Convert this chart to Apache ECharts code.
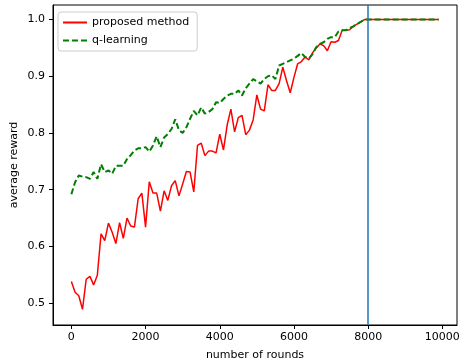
<!DOCTYPE html>
<html>
<head>
<meta charset="utf-8">
<script src="https://cdn.jsdelivr.net/npm/echarts@6/dist/echarts.min.js"></script>
<style>html,body{margin:0;padding:0;background:#fff}#c{width:459px;height:363px}</style>
</head>
<body>
<div id="c"></div>
<script>
const rounds = [0,100,200,300,400,500,600,700,800,900,
1000,1100,1200,1300,1400,1500,1600,1700,1800,1900,
2000,2100,2200,2300,2400,2500,2600,2700,2800,2900,
3000,3100,3200,3300,3400,3500,3600,3700,3800,3900,
4000,4100,4200,4300,4400,4500,4600,4700,4800,4900,
5000,5100,5200,5300,5400,5500,5600,5700,5800,5900,
6000,6100,6200,6300,6400,6500,6600,6700,6800,6900,
7000,7100,7200,7300,7400,7500,7600,7700,7800,7900,
8000,8100,8200,8300,8400,8500,8600,8700,8800,8900,
9000,9100,9200,9300,9400,9500,9600,9700,9800,9900];

const proposed = [0.538,0.519,0.513,0.489,0.542,0.547,0.532,0.549,0.622,0.610,
0.641,0.625,0.605,0.642,0.614,0.650,0.636,0.634,0.684,0.694,
0.634,0.714,0.694,0.694,0.662,0.698,0.681,0.707,0.716,0.689,
0.710,0.732,0.731,0.696,0.778,0.782,0.760,0.768,0.768,0.765,
0.798,0.770,0.814,0.842,0.802,0.827,0.831,0.797,0.805,0.823,
0.867,0.842,0.839,0.885,0.875,0.875,0.887,0.916,0.892,0.871,
0.898,0.922,0.926,0.934,0.929,0.941,0.950,0.957,0.954,0.945,
0.961,0.960,0.963,0.981,0.981,0.982,0.988,0.992,0.996,1.0,
1.0,1.0,1.0,1.0,1.0,1.0,1.0,1.0,1.0,1.0,
1.0,1.0,1.0,1.0,1.0,1.0,1.0,1.0,1.0,1.0];

const qlearning = [0.692,0.713,0.725,0.723,0.722,0.719,0.731,0.719,0.745,0.731,
0.734,0.728,0.742,0.742,0.742,0.754,0.761,0.769,0.773,0.773,
0.775,0.767,0.778,0.794,0.775,0.792,0.798,0.807,0.824,0.805,
0.800,0.810,0.825,0.839,0.831,0.845,0.834,0.837,0.842,0.854,
0.853,0.860,0.866,0.869,0.869,0.875,0.866,0.879,0.887,0.895,
0.891,0.887,0.895,0.900,0.902,0.895,0.919,0.922,0.925,0.928,
0.931,0.936,0.941,0.934,0.931,0.939,0.951,0.957,0.960,0.966,
0.969,0.969,0.979,0.981,0.981,0.985,0.988,0.992,0.996,1.0,
1.0,1.0,1.0,1.0,1.0,1.0,1.0,1.0,1.0,1.0,
1.0,1.0,1.0,1.0,1.0,1.0,1.0,1.0,1.0,1.0];

const xTicks = [0,2000,4000,6000,8000,10000];
const yTicks = [0.5,0.6,0.7,0.8,0.9,1.0];
const vLineX = 8000;
const seriesNames = ['proposed method','q-learning'];

const FONT = 'DejaVu Sans';
const pair = (xs, ys) => xs.map((x, i) => [x, ys[i]]);

const chart = echarts.init(document.getElementById('c'), null, {renderer: 'canvas'});
chart.setOption({
  animation: false,
  backgroundColor: '#fff',
  textStyle: {fontFamily: FONT},
  grid: {left: 53, right: 2, top: 5, bottom: 38, show: true, borderColor: '#000', borderWidth: 1,
    backgroundColor: 'transparent', containLabel: false, outerBoundsMode: 'none'},
  legend: {
    orient: 'vertical', left: 58, top: 12,
    itemWidth: 24, itemHeight: 10, itemGap: 7,
    padding: [5, 8, 5, 4],
    borderColor: '#ccc', borderWidth: 1, borderRadius: 3,
    backgroundColor: 'rgba(255,255,255,0.8)',
    itemStyle: {opacity: 0},
    textStyle: {fontFamily: FONT, fontSize: 11, color: '#000'},
    data: seriesNames
  },
  xAxis: {
    type: 'value', min: -495, max: 10395,
    name: 'number of rounds', nameLocation: 'middle', nameGap: 25,
    nameTextStyle: {fontFamily: FONT, fontSize: 11, color: '#000'},
    axisLine: {show: true, onZero: false, lineStyle: {color: '#000', width: 1}},
    axisTick: {show: true, length: 4, inside: false, customValues: xTicks, lineStyle: {color: '#000'}},
    axisLabel: {customValues: xTicks, margin: 7, fontFamily: FONT, fontSize: 11, color: '#000',
      formatter: v => String(Math.round(v))},
    splitLine: {show: false}
  },
  yAxis: {
    type: 'value', min: 0.4613, max: 1.0257,
    name: 'average reward', nameLocation: 'middle', nameGap: 33, nameRotate: 90,
    nameMoveOverlap: false,
    nameTextStyle: {fontFamily: FONT, fontSize: 11, color: '#000'},
    axisLine: {show: true, onZero: false, lineStyle: {color: '#000', width: 1}},
    axisTick: {show: true, length: 4, customValues: yTicks, lineStyle: {color: '#000'}},
    axisLabel: {customValues: yTicks, margin: 8, fontFamily: FONT, fontSize: 11, color: '#000',
      formatter: v => v.toFixed(1)},
    splitLine: {show: false}
  },
  series: [
    {
      name: seriesNames[0], type: 'line', data: pair(rounds, proposed),
      showSymbol: false, symbol: 'none', smooth: false,
      lineStyle: {color: '#ff0000', width: 1.5},
      itemStyle: {color: '#ff0000'}, z: 2
    },
    {
      name: seriesNames[1], type: 'line', data: pair(rounds, qlearning),
      showSymbol: false, symbol: 'none', smooth: false,
      lineStyle: {color: '#008000', width: 2, type: [6, 3]},
      itemStyle: {color: '#008000'}, z: 3
    },
    {
      name: 'vline', type: 'line', data: [],
      markLine: {
        silent: true, symbol: 'none', animation: false,
        label: {show: false},
        lineStyle: {color: '#1f77b4', width: 1.5, type: 'solid'},
        data: [{xAxis: vLineX}]
      }, z: 4
    }
  ]
});
</script>
</body>
</html>
